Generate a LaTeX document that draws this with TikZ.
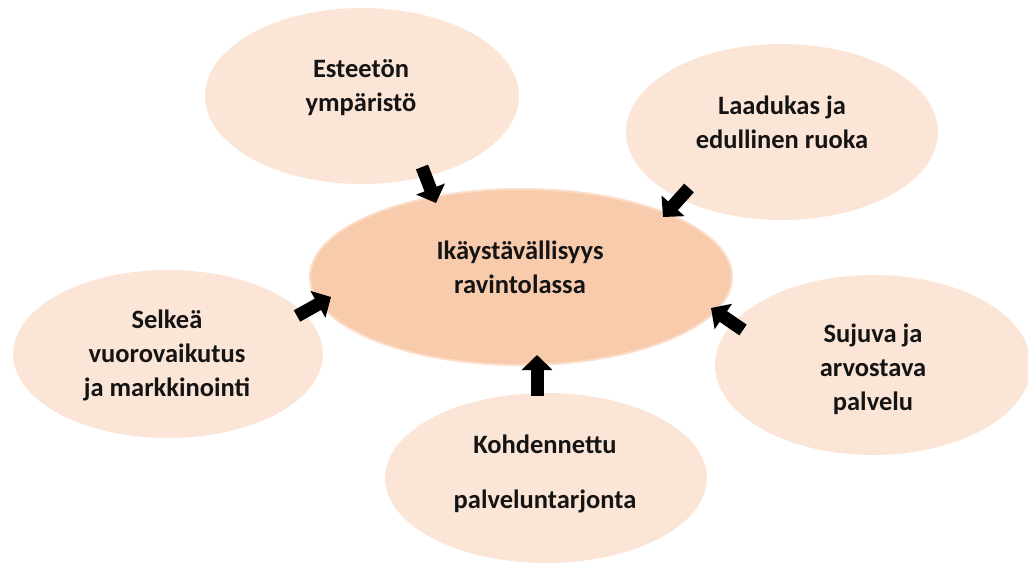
\documentclass[tikz,border=0pt]{standalone}
\usepackage{fontspec}
\setmainfont{Carlito}
\usetikzlibrary{shapes.geometric,arrows.meta}
\definecolor{petal}{HTML}{FBE5D6}
\definecolor{core}{HTML}{F8CBAD}
\definecolor{coreedge}{HTML}{FBDDC9}
\begin{document}
\begin{tikzpicture}[x=1pt,y=-1pt,
  petal/.style={ellipse, fill=petal, draw=none, inner sep=0pt},
  hub/.style={ellipse, fill=core, draw=coreedge, line width=2pt, inner sep=0pt},
  lbl/.style={font=\bfseries\fontsize{26.5}{34}\selectfont, align=center, text=black!92},
  push/.style={line width=13pt, -{Triangle[width=30pt,length=15pt]}}]
\useasboundingbox (0,0) rectangle (1028,566);

% surrounding factors
\node[petal, minimum width=314pt, minimum height=176pt] (top) at (362,96) {};
\node[petal, minimum width=312pt, minimum height=176pt] (food) at (782,132) {};
\node[petal, minimum width=310pt, minimum height=168pt] (talk) at (168,354) {};
\node[petal, minimum width=316pt, minimum height=180pt] (serv) at (873,365) {};
\node[petal, minimum width=322pt, minimum height=170pt] (offer) at (546,478) {};

% central theme
\node[hub, minimum width=422pt, minimum height=176pt] (hub) at (521,277) {};

% labels
\node[lbl] (ttop) at (361,88) {Esteetön\\ympäristö};
\node[lbl] (tfood) at (782,122) {Laadukas ja\\edullinen ruoka};
\node[lbl] (thub) at (520,267) {Ikäystävällisyys\\ravintolassa};
\node[lbl] (ttalk) at (167,355) {Selkeä\\vuorovaikutus\\ja markkinointi};
\node[lbl] (tserv) at (873,369) {Sujuva ja\\arvostava\\palvelu};
\node[lbl] (toffer) at (545,474) {Kohdennettu\\[21pt]palveluntarjonta};

% arrow anchor points between the ellipses
\coordinate (p1) at (422,167); \coordinate (q1) at (436,203);
\coordinate (p2) at (689,188); \coordinate (q2) at (663,217);
\coordinate (p3) at (297,316); \coordinate (q3) at (331,297);
\coordinate (p4) at (743,330); \coordinate (q4) at (711,308);
\coordinate (p5) at (537,396); \coordinate (q5) at (537,355);

\draw[push] (p1) -- (q1);
\draw[push] (p2) -- (q2);
\draw[push] (p3) -- (q3);
\draw[push] (p4) -- (q4);
\draw[push] (p5) -- (q5);
\end{tikzpicture}
\end{document}
